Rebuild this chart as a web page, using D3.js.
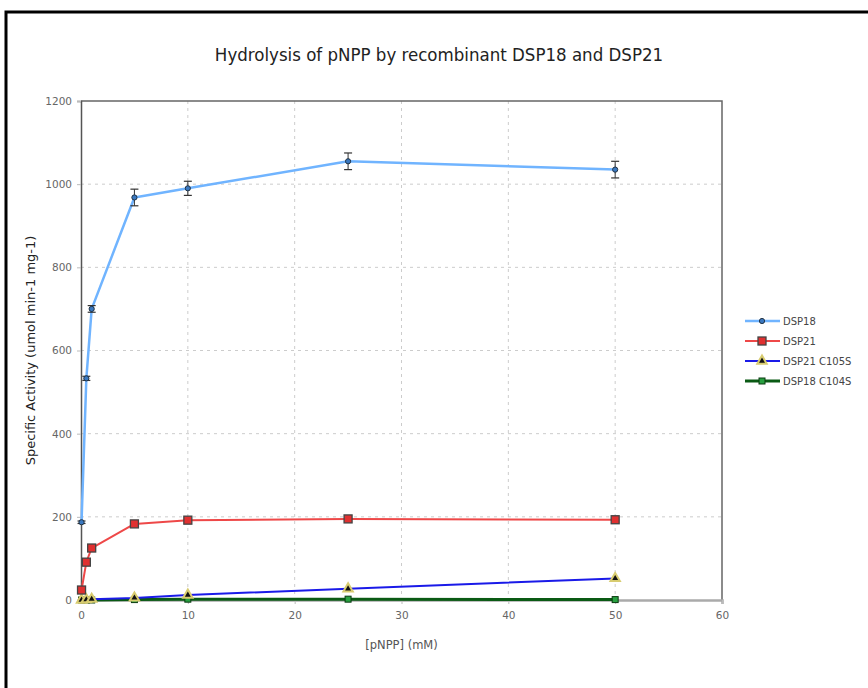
<!DOCTYPE html>
<html>
<head>
<meta charset="utf-8">
<script src="https://cdn.jsdelivr.net/npm/d3@7"></script>
<style>
  body { margin: 0; background: #fff; }
  svg { display: block; }
  .tick text { font-family: "DejaVu Sans", Verdana, sans-serif; font-size: 10.5px; fill: #666; }
</style>
</head>
<body>
<div id="chart"></div>
<script>
const W = 868, H = 688;

// substrate concentrations, mM
const conc = [0.05, 0.5, 1, 5, 10, 25, 50];

const dsp18 = [187, 533, 700, 968, 990, 1055, 1035];
const dsp18Err = [3, 5, 8, 20, 17, 20, 20];
const dsp21 = [24, 91, 125, 183, 192, 195, 193];
const dsp21C105S = [0, 1, 2, 5, 12, 27, 52];
const dsp18C104S = [0, 0, 0, 1, 2, 2, 1];

const seriesNames = ["DSP18", "DSP21", "DSP21 C105S", "DSP18 C104S"];
const xTicks = [0, 10, 20, 30, 40, 50, 60];
const yTicks = [0, 200, 400, 600, 800, 1000, 1200];

const m = { left: 81, right: 722, top: 101, bottom: 600 };

const svg = d3.select("#chart")
    .append("svg")
    .attr("width", W)
    .attr("height", H);

// outer frame (runs off the page on the right and bottom)
svg.append("rect")
    .attr("x", 6).attr("y", 12)
    .attr("width", 900).attr("height", 700)
    .attr("fill", "none")
    .attr("stroke", "#000")
    .attr("stroke-width", 3);

const x = d3.scaleLinear().domain([0, 60]).range([m.left, m.right]);
const y = d3.scaleLinear().domain([0, 1200]).range([m.bottom, m.top]);

// grid
svg.append("g").selectAll("line")
    .data(yTicks.slice(1, -1))
    .join("line")
    .attr("x1", m.left).attr("x2", m.right)
    .attr("y1", d => y(d)).attr("y2", d => y(d))
    .attr("stroke", "#ccc").attr("stroke-dasharray", "3,4");
svg.append("g").selectAll("line")
    .data(xTicks.slice(1, -1))
    .join("line")
    .attr("x1", d => x(d)).attr("x2", d => x(d))
    .attr("y1", m.top).attr("y2", m.bottom)
    .attr("stroke", "#ccc").attr("stroke-dasharray", "3,4");

// plot box
svg.append("path")
    .attr("d", `M${m.left},${m.top}H${m.right}V${m.bottom}`)
    .attr("fill", "none").attr("stroke", "#666").attr("stroke-width", 1.5);

// axes
const yAxis = svg.append("g")
    .attr("transform", `translate(${m.left},0)`)
    .call(d3.axisLeft(y).tickValues(yTicks).tickFormat(d3.format("d")).tickSize(4).tickPadding(5));
yAxis.select(".domain").attr("stroke", "#555").attr("stroke-width", 1.5);
yAxis.selectAll(".tick line").attr("stroke", "#bbb");

const xAxis = svg.append("g")
    .attr("transform", `translate(0,${m.bottom})`)
    .call(d3.axisBottom(x).tickValues(xTicks).tickFormat(d3.format("d")).tickSize(4).tickPadding(8));
xAxis.select(".domain").attr("stroke", "#aaa").attr("stroke-width", 2.5);
xAxis.selectAll(".tick line").attr("stroke", "#bbb");

// title and axis labels
svg.append("text")
    .attr("x", 439).attr("y", 61)
    .attr("text-anchor", "middle")
    .attr("font-family", "'DejaVu Sans Condensed', 'Liberation Sans Narrow', sans-serif")
    .attr("font-size", 18.5)
    .attr("fill", "#222")
    .text("Hydrolysis of pNPP by recombinant DSP18 and DSP21");

svg.append("text")
    .attr("x", (m.left + m.right) / 2).attr("y", 649)
    .attr("text-anchor", "middle")
    .attr("font-family", "'DejaVu Sans', Verdana, sans-serif")
    .attr("font-size", 11.5)
    .attr("fill", "#555")
    .text("[pNPP] (mM)");

svg.append("text")
    .attr("transform", `translate(35,${(m.top + m.bottom) / 2}) rotate(-90)`)
    .attr("text-anchor", "middle")
    .attr("font-family", "'DejaVu Sans', Verdana, sans-serif")
    .attr("font-size", 13)
    .attr("fill", "#222")
    .text("Specific Activity (umol min-1 mg-1)");

const series = [
    { name: seriesNames[0], values: dsp18, err: dsp18Err, color: "#70b4ff", width: 2.5, marker: "diamond", fill: "#3a78c0", stroke: "#234" },
    { name: seriesNames[1], values: dsp21, color: "#ee4848", width: 2, marker: "square", fill: "#e03030", stroke: "#444" },
    { name: seriesNames[2], values: dsp21C105S, color: "#1a1ae8", width: 2, marker: "triangle", fill: "#111", stroke: "#d8cc70" },
    { name: seriesNames[3], values: dsp18C104S, color: "#0a5a14", width: 3, marker: "square-small", fill: "#28a040", stroke: "#0a3a10" }
];

const line = d3.line().x(d => x(d[0])).y(d => y(d[1]));

function drawMarker(g, type, fill, stroke) {
    if (type === "diamond") {
        g.append("circle").attr("r", 2.6).attr("fill", fill).attr("stroke", stroke).attr("stroke-width", 1);
    } else if (type === "square") {
        g.append("rect").attr("x", -4).attr("y", -4).attr("width", 8).attr("height", 8)
            .attr("fill", fill).attr("stroke", stroke).attr("stroke-width", 1.3);
    } else if (type === "triangle") {
        g.append("path").attr("d", d3.symbol(d3.symbolTriangle, 38)())
            .attr("fill", fill).attr("stroke", stroke).attr("stroke-width", 2);
    } else {
        g.append("rect").attr("x", -3).attr("y", -3).attr("width", 6).attr("height", 6)
            .attr("fill", fill).attr("stroke", stroke).attr("stroke-width", 1);
    }
}

// draw in reverse so DSP18 sits on top
series.slice().reverse().forEach(s => {
    const pts = conc.map((c, i) => [c, s.values[i]]);
    const g = svg.append("g");
    g.append("path")
        .datum(pts)
        .attr("d", line)
        .attr("fill", "none")
        .attr("stroke", s.color)
        .attr("stroke-width", s.width)
        .attr("stroke-linejoin", "round");

    if (s.err) {
        const eb = g.append("g");
        pts.forEach((p, i) => {
            const cx = x(p[0]), e = s.err[i];
            const y1 = y(p[1] + e), y2 = y(p[1] - e);
            eb.append("line").attr("x1", cx).attr("x2", cx).attr("y1", y1).attr("y2", y2)
                .attr("stroke", "#333").attr("stroke-width", 1);
            [y1, y2].forEach(yy => eb.append("line")
                .attr("x1", cx - 4).attr("x2", cx + 4).attr("y1", yy).attr("y2", yy)
                .attr("stroke", "#333").attr("stroke-width", 1.2));
        });
    }

    pts.forEach(p => {
        const mg = g.append("g").attr("transform", `translate(${x(p[0])},${y(p[1])})`);
        drawMarker(mg, s.marker, s.fill, s.stroke);
    });
});

// legend
const legend = svg.append("g").attr("transform", "translate(745,321)");
series.forEach((s, i) => {
    const row = legend.append("g").attr("transform", `translate(0,${i * 20})`);
    row.append("line").attr("x1", 0).attr("x2", 35).attr("y1", 0).attr("y2", 0)
        .attr("stroke", s.color).attr("stroke-width", s.width);
    const mg = row.append("g").attr("transform", "translate(17,0)");
    drawMarker(mg, s.marker, s.fill, s.stroke);
    row.append("text")
        .attr("x", 38).attr("y", 3.5)
        .attr("font-family", "'DejaVu Sans', Verdana, sans-serif")
        .attr("font-size", 10)
        .attr("fill", "#444")
        .text(s.name);
});
</script>
</body>
</html>
